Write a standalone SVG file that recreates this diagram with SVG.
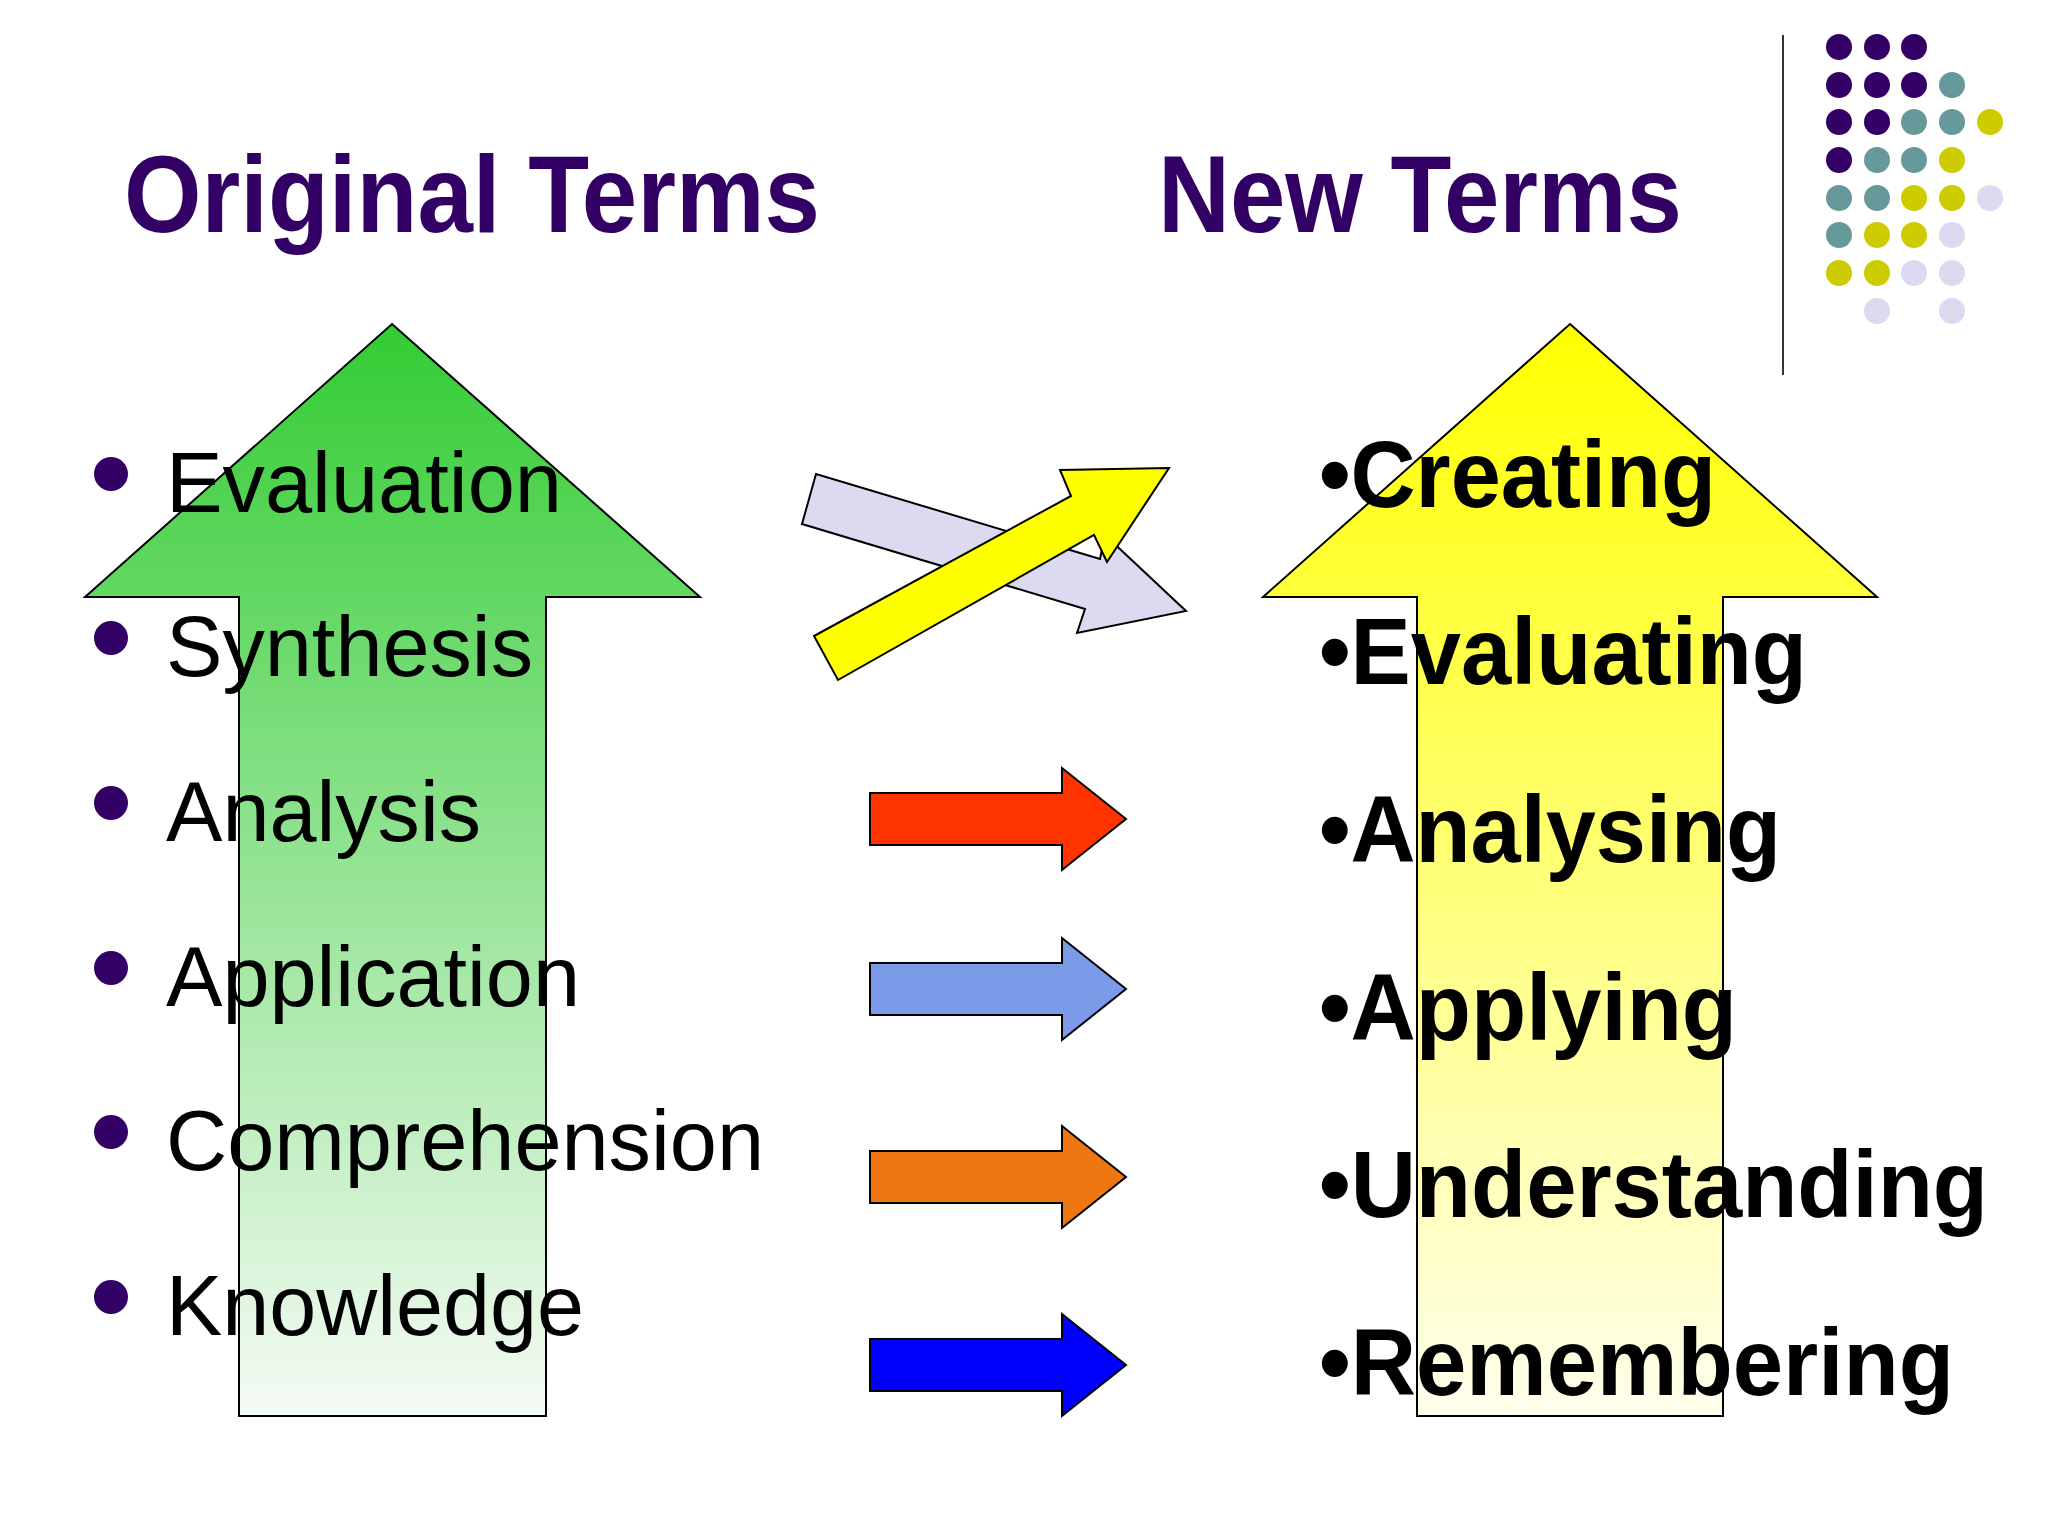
<svg xmlns="http://www.w3.org/2000/svg" width="2048" height="1536" viewBox="0 0 2048 1536">
<style>
.t{font-family:"Liberation Sans",Arial,sans-serif;fill:#330066;font-weight:bold;font-size:109px}
.l{font-family:"Liberation Sans",Arial,sans-serif;fill:#000;font-size:86px}
.r{font-family:"Liberation Sans",Arial,sans-serif;fill:#000;font-weight:bold;font-size:95px}
.s{stroke:#000;stroke-width:2}
.P{fill:#330066}.T{fill:#669999}.Y{fill:#cccc00}.L{fill:#dcdaf0}
</style>
<defs>
<linearGradient id="gg" x1="0" y1="0" x2="0" y2="1"><stop offset="0" stop-color="#33cc33"/><stop offset="1" stop-color="#f5fbf5"/></linearGradient>
<linearGradient id="yg" x1="0" y1="0" x2="0" y2="1"><stop offset="0" stop-color="#ffff00"/><stop offset="1" stop-color="#ffffee"/></linearGradient>
</defs>
<rect width="2048" height="1536" fill="#fff"/>
<text class="t" x="124" y="232" textLength="696" lengthAdjust="spacingAndGlyphs">Original Terms</text>
<text class="t" x="1158" y="232" textLength="524" lengthAdjust="spacingAndGlyphs">New Terms</text>
<line x1="1783" y1="35" x2="1783" y2="375" stroke="#333" stroke-width="2"/>
<g id="dots">
<circle class="P" cx="1839" cy="47" r="13"/><circle class="P" cx="1877" cy="47" r="13"/><circle class="P" cx="1914" cy="47" r="13"/>
<circle class="P" cx="1839" cy="85" r="13"/><circle class="P" cx="1877" cy="85" r="13"/><circle class="P" cx="1914" cy="85" r="13"/><circle class="T" cx="1952" cy="85" r="13"/>
<circle class="P" cx="1839" cy="122" r="13"/><circle class="P" cx="1877" cy="122" r="13"/><circle class="T" cx="1914" cy="122" r="13"/><circle class="T" cx="1952" cy="122" r="13"/><circle class="Y" cx="1990" cy="122" r="13"/>
<circle class="P" cx="1839" cy="160" r="13"/><circle class="T" cx="1877" cy="160" r="13"/><circle class="T" cx="1914" cy="160" r="13"/><circle class="Y" cx="1952" cy="160" r="13"/>
<circle class="T" cx="1839" cy="198" r="13"/><circle class="T" cx="1877" cy="198" r="13"/><circle class="Y" cx="1914" cy="198" r="13"/><circle class="Y" cx="1952" cy="198" r="13"/><circle class="L" cx="1990" cy="198" r="13"/>
<circle class="T" cx="1839" cy="235" r="13"/><circle class="Y" cx="1877" cy="235" r="13"/><circle class="Y" cx="1914" cy="235" r="13"/><circle class="L" cx="1952" cy="235" r="13"/>
<circle class="Y" cx="1839" cy="273" r="13"/><circle class="Y" cx="1877" cy="273" r="13"/><circle class="L" cx="1914" cy="273" r="13"/><circle class="L" cx="1952" cy="273" r="13"/>
<circle class="L" cx="1877" cy="311" r="13"/><circle class="L" cx="1952" cy="311" r="13"/>
</g>
<g id="green-arrow"><polygon class="s" fill="url(#gg)" points="392,324 700,597 546,597 546,1416 239,1416 239,597 85,597"/></g>
<g id="yellow-arrow"><polygon class="s" fill="url(#yg)" points="1570,324 1877,597 1723,597 1723,1416 1417,1416 1417,597 1263,597"/></g>
<g id="connectors">
<polygon class="s" fill="#dcdaf0" points="816,474 802,524 1085,609 1077,633 1186,611 1105,535 1100,559"/>
<polygon class="s" fill="#ffff00" points="838,680 1094,535 1107,562 1169,468 1060,470 1071,496 814,636"/>
<polygon class="s" fill="#ff3300" points="870,793 1062,793 1062,768 1126,819 1062,870 1062,845 870,845"/>
<polygon class="s" fill="#7b9be8" points="870,963 1062,963 1062,938 1126,989 1062,1040 1062,1015 870,1015"/>
<polygon class="s" fill="#ee7711" points="870,1151 1062,1151 1062,1126 1126,1177 1062,1228 1062,1203 870,1203"/>
<polygon class="s" fill="#0000ff" points="870,1339 1062,1339 1062,1314 1126,1365 1062,1416 1062,1391 870,1391"/>
</g>
<g id="left-list">
<circle class="P" cx="111" cy="474" r="17"/><text class="l" x="166" y="512" textLength="396" lengthAdjust="spacingAndGlyphs">Evaluation</text>
<circle class="P" cx="111" cy="638" r="17"/><text class="l" x="166" y="676" textLength="367" lengthAdjust="spacingAndGlyphs">Synthesis</text>
<circle class="P" cx="111" cy="803" r="17"/><text class="l" x="166" y="841" textLength="315" lengthAdjust="spacingAndGlyphs">Analysis</text>
<circle class="P" cx="111" cy="968" r="17"/><text class="l" x="166" y="1006" textLength="414" lengthAdjust="spacingAndGlyphs">Application</text>
<circle class="P" cx="111" cy="1132" r="17"/><text class="l" x="166" y="1170" textLength="598" lengthAdjust="spacingAndGlyphs">Comprehension</text>
<circle class="P" cx="111" cy="1297" r="17"/><text class="l" x="166" y="1335" textLength="418" lengthAdjust="spacingAndGlyphs">Knowledge</text>
</g>
<g id="right-list">
<text class="r" x="1319" y="507" textLength="397" lengthAdjust="spacingAndGlyphs">•Creating</text>
<text class="r" x="1319" y="684" textLength="488" lengthAdjust="spacingAndGlyphs">•Evaluating</text>
<text class="r" x="1319" y="862" textLength="462" lengthAdjust="spacingAndGlyphs">•Analysing</text>
<text class="r" x="1319" y="1040" textLength="418" lengthAdjust="spacingAndGlyphs">•Applying</text>
<text class="r" x="1319" y="1217" textLength="669" lengthAdjust="spacingAndGlyphs">•Understanding</text>
<text class="r" x="1319" y="1395" textLength="635" lengthAdjust="spacingAndGlyphs">•Remembering</text>
</g>
</svg>
